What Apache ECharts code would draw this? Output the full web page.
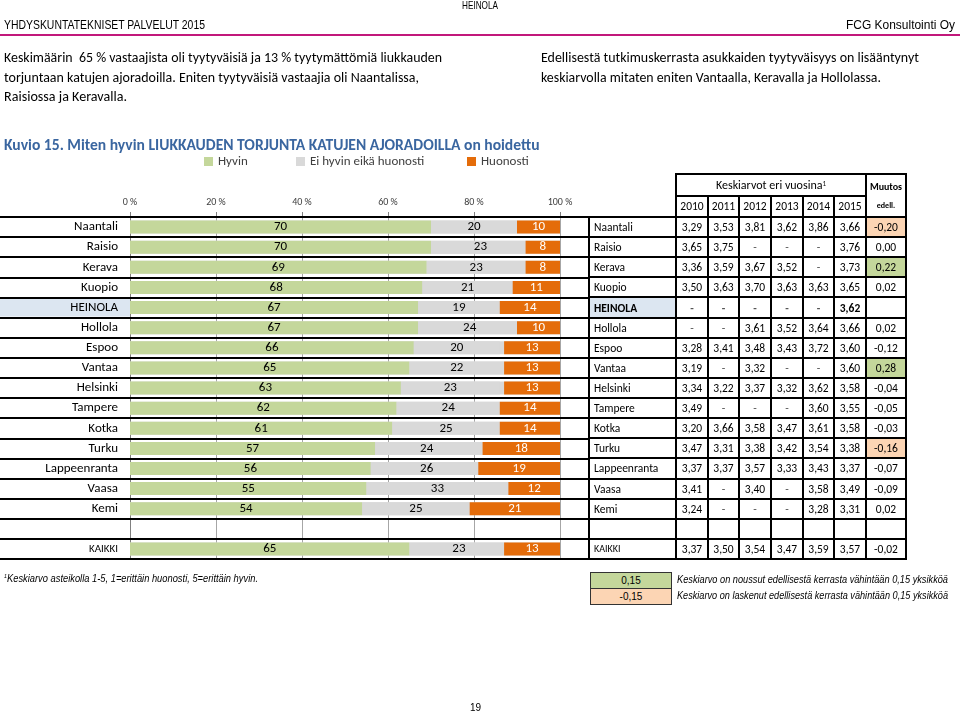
<!DOCTYPE html>
<html><head><meta charset="utf-8">
<script src="https://cdn.jsdelivr.net/npm/echarts@6/dist/echarts.min.js"></script>
<style>
html,body{margin:0;padding:0;background:#fff;}
#wrap{position:relative;width:960px;height:714px;overflow:hidden;font-family:Carlito,Lato,sans-serif;}
#chart{position:absolute;left:0;top:0;width:960px;height:714px;}
#overlay{position:absolute;left:0;top:0;width:960px;height:714px;pointer-events:none;}
.t{position:absolute;white-space:nowrap;color:#000;transform-origin:0 50%;}
.narrow{font-family:'Liberation Sans Narrow','Arial Narrow','Liberation Sans',sans-serif;}
.cell{position:absolute;box-sizing:border-box;border:2px solid #000;display:flex;align-items:center;justify-content:center;font-size:11.5px;color:#000;overflow:hidden;white-space:nowrap;}
</style></head><body>
<div id="wrap"><div id="chart"></div><div id="overlay"></div></div>
<script>
// ---- chart data ----
const categories = ['Naantali','Raisio','Kerava','Kuopio','HEINOLA','Hollola','Espoo','Vantaa','Helsinki','Tampere','Kotka','Turku','Lappeenranta','Vaasa','Kemi'];
const hyvin = [70,70,69,68,67,67,66,65,63,62,61,57,56,55,54];
const eiHyvinEikaHuonosti = [20,23,23,21,19,24,20,22,23,24,25,24,26,33,25];
const huonosti = [10,8,8,11,14,10,13,13,13,14,14,18,19,12,21];
const totalCategory = ['KAIKKI'];
const totalHyvin = [65];
const totalEiHyvin = [23];
const totalHuonosti = [13];
const seriesNames = ['Hyvin','Ei hyvin eikä huonosti','Huonosti'];
const axisMin = 0, axisMax = 100, axisStep = 20;

// ---- table data ----
const years = ['2010','2011','2012','2013','2014','2015'];
const tableRows = categories.concat(['', 'KAIKKI']);
const mean2010 = [3.29,3.65,3.36,3.50,null,null,3.28,3.19,3.34,3.49,3.20,3.47,3.37,3.41,3.24,'',3.37];
const mean2011 = [3.53,3.75,3.59,3.63,null,null,3.41,null,3.22,null,3.66,3.31,3.37,null,null,'',3.50];
const mean2012 = [3.81,null,3.67,3.70,null,3.61,3.48,3.32,3.37,null,3.58,3.38,3.57,3.40,null,'',3.54];
const mean2013 = [3.62,null,3.52,3.63,null,3.52,3.43,null,3.32,null,3.47,3.42,3.33,null,null,'',3.47];
const mean2014 = [3.86,null,null,3.63,null,3.64,3.72,null,3.62,3.60,3.61,3.54,3.43,3.58,3.28,'',3.59];
const mean2015 = [3.66,3.76,3.73,3.65,3.62,3.66,3.60,3.60,3.58,3.55,3.58,3.38,3.37,3.49,3.31,'',3.57];
const muutos = [-0.20,0.00,0.22,0.02,'',0.02,-0.12,0.28,-0.04,-0.05,-0.03,-0.16,-0.07,-0.09,0.02,'',-0.02];

// ---- layout ----
const GRID_TOP = 217, ROW_H = 20.12, NROWS = tableRows.length;
const AX_LEFT = 130, AX_W = 430;
const GREEN = '#c4d79b', GREY = '#d9d9d9', ORANGE = '#e46c0a', PEACH = '#fcd5b4', LBLUE = '#dce6f1';
const FONT = 'Carlito, Lato, sans-serif';

const chart = echarts.init(document.getElementById('chart'), null, {renderer:'canvas'});

function labelFmt(v){ return v === 'HEINOLA' ? '{h|' + v + '}' : (v === 'KAIKKI' ? '{k|' + v + '}' : '{n|' + v + '}'); }
const richLabels = {
  n: {fontSize: 13, fontFamily: FONT, color: '#000', padding: [0, 12, 0, 0]},
  k: {fontSize: 11, fontFamily: FONT, color: '#000', padding: [0, 12, 0, 0]},
  h: {fontSize: 13, fontFamily: FONT, color: '#000', backgroundColor: LBLUE, width: 118, height: 18, lineHeight: 18, align: 'right', padding: [0, 12, 0, 0]}
};
function catY(gridIdx, data){
  return {type:'category', gridIndex: gridIdx, data: data, inverse: true,
    axisLine:{show:false}, axisTick:{show:false}, splitLine:{show:false},
    axisLabel:{show:true, margin:0, formatter: labelFmt, rich: richLabels}};
}
function hidX(gridIdx, inv){
  return {type:'value', gridIndex: gridIdx, min: axisMin, max: axisMax, inverse: !!inv, show:false, splitLine:{show:false}};
}
function barLabel(color){ return {show:true, position:'inside', color: color, fontSize: 13, fontFamily: FONT}; }
function barSeries(name, xi, yi, data, color, lblColor, extra){
  return Object.assign({type:'bar', name: name, xAxisIndex: xi, yAxisIndex: yi, data: data, barWidth: 13, barGap: '-100%',
    itemStyle:{color: color}, label: barLabel(lblColor), emphasis:{disabled:true}, animation:false}, extra || {});
}
function grid(left, top, width, height){
  return {left: left, top: top, width: width, height: height, containLabel: false, outerBoundsMode: 'none'};
}

const option = {
  animation: false,
  backgroundColor: '#fff',
  title: {text: 'Kuvio 15. Miten hyvin LIUKKAUDEN TORJUNTA KATUJEN AJORADOILLA on hoidettu', left: 4, top: 138, padding: 0,
    textStyle: {fontFamily: FONT, fontSize: 15.6, fontWeight: 'bold', color: '#3a66a0'}},
  legend: seriesNames.map((n, i) => ({data: [n], left: [204, 296, 467][i], top: 155, padding: 0, icon: 'rect', itemWidth: 9, itemHeight: 9,
    itemGap: 5, selectedMode: false, textStyle: {fontFamily: FONT, fontSize: 13, color: '#404040'}})),
  grid: [
    grid(0, GRID_TOP, 589, ROW_H * NROWS),
    grid(AX_LEFT, GRID_TOP, AX_W, ROW_H * NROWS),
    grid(AX_LEFT, GRID_TOP, AX_W, ROW_H * categories.length),
    grid(AX_LEFT, GRID_TOP + ROW_H * (NROWS - 1), AX_W, ROW_H)
  ],
  xAxis: [
    {type:'value', gridIndex:0, show:false},
    {type:'value', gridIndex:1, min: axisMin, max: axisMax, interval: axisStep, position:'top',
      axisLine:{show:false}, axisTick:{show:true, length:5, lineStyle:{color:'#808080'}},
      axisLabel:{formatter:'{value} %', fontFamily: FONT, fontSize: 10, color:'#404040', margin: 10},
      splitLine:{show:true, lineStyle:{color:'#a6a6a6', width:1}}},
    hidX(2, false), hidX(2, true), hidX(3, false), hidX(3, true)
  ],
  yAxis: [
    {type:'category', gridIndex:0, data: tableRows, inverse:true, z: 1,
      axisLine:{show:false}, axisTick:{show:false}, axisLabel:{show:false},
      splitLine:{show:true, lineStyle:{color:'#000', width:2}}},
    {type:'category', gridIndex:1, data: tableRows, inverse:true,
      axisLine:{show:true, lineStyle:{color:'#808080'}}, axisTick:{show:true, length:3, lineStyle:{color:'#808080'}},
      axisLabel:{show:false}, splitLine:{show:false}},
    catY(2, categories), catY(3, totalCategory)
  ],
  series: [
    barSeries(seriesNames[0], 2, 2, hyvin, GREEN, '#000', {stack:'a', showBackground:true, backgroundStyle:{color: GREY}}),
    barSeries(seriesNames[1], 2, 2, eiHyvinEikaHuonosti, GREY, '#000', {stack:'a'}),
    barSeries(seriesNames[2], 3, 2, huonosti, ORANGE, '#fff', {stack:'b'}),
    barSeries(seriesNames[0], 4, 3, totalHyvin, GREEN, '#000', {stack:'c', showBackground:true, backgroundStyle:{color: GREY}}),
    barSeries(seriesNames[1], 4, 3, totalEiHyvin, GREY, '#000', {stack:'c'}),
    barSeries(seriesNames[2], 5, 3, totalHuonosti, ORANGE, '#fff', {stack:'d'})
  ]
};
chart.setOption(option);

// ---- overlay texts and table ----
const ov = document.getElementById('overlay');
function addText(txt, left, top, css, targetW){
  const d = document.createElement('div');
  d.className = 't' + (css.narrow ? ' narrow' : '');
  d.innerHTML = txt;
  d.style.left = left + 'px'; d.style.top = top + 'px';
  for (const k in css) if (k !== 'narrow') d.style[k] = css[k];
  ov.appendChild(d);
  if (targetW) { const w = d.getBoundingClientRect().width; if (w > 0) d.style.transform = 'scaleX(' + (targetW / w) + ')'; }
  return d;
}
function addBox(l, t, w, h, css){
  const d = document.createElement('div');
  d.style.position = 'absolute'; d.style.left = l + 'px'; d.style.top = t + 'px';
  d.style.width = w + 'px'; d.style.height = h + 'px';
  for (const k in css) d.style[k] = css[k];
  ov.appendChild(d); return d;
}
// page header
addText('HEINOLA', 462, -1, {fontSize:'11px', narrow:true}, 36);
addText('YHDYSKUNTATEKNISET PALVELUT 2015', 4, 18, {fontSize:'12.5px', narrow:true}, 201);
addText('FCG Konsultointi Oy', 846, 18, {fontSize:'12.5px', narrow:true}, 109);
addBox(0, 34, 960, 2, {background:'#c2187b'});
// paragraphs
const pL = ['Keskimäärin&nbsp; 65 % vastaajista oli tyytyväisiä ja 13 % tyytymättömiä liukkauden',
            'torjuntaan katujen ajoradoilla. Eniten tyytyväisiä vastaajia oli Naantalissa,',
            'Raisiossa ja Keravalla.'];
const pLw = [438, 415, 123];
pL.forEach((s, i) => addText(s, 4, 49 + i * 19.5, {fontSize:'14px'}, pLw[i]));
const pR = ['Edellisestä tutkimuskerrasta asukkaiden tyytyväisyys on lisääntynyt',
            'keskiarvolla mitaten eniten Vantaalla, Keravalla ja Hollolassa.'];
const pRw = [378, 340];
pR.forEach((s, i) => addText(s, 541, 49 + i * 19.5, {fontSize:'14px'}, pRw[i]));

// table
const colX = [589, 676, 708, 739, 771, 803, 834, 866, 906];
function cell(x0, x1, y0, y1, html, css){
  const d = document.createElement('div'); d.className = 'cell';
  d.style.left = (x0 - 1) + 'px'; d.style.top = (y0 - 1) + 'px';
  d.style.width = (x1 - x0 + 2) + 'px'; d.style.height = (y1 - y0 + 2) + 'px';
  d.innerHTML = html;
  for (const k in (css || {})) d.style[k] = css[k];
  ov.appendChild(d); return d;
}
const HDR_TOP = 174, HDR_MID = 195.5;
cell(colX[1], colX[7], HDR_TOP, HDR_MID, 'Keskiarvot eri vuosina<sup style="font-size:7px;position:relative;top:-1px">1</sup>', {fontSize:'12px'});
years.forEach((y, i) => cell(colX[1 + i], colX[2 + i], HDR_MID, GRID_TOP, y, {fontSize:'11.5px'}));
cell(colX[7], colX[8], HDR_TOP, GRID_TOP, '<div style="text-align:center;line-height:1"><div style="font-weight:bold;font-size:10px;margin-bottom:9px">Muutos</div><div style="font-weight:bold;font-size:8px">edell.</div></div>', {});
const meanCols = [mean2010, mean2011, mean2012, mean2013, mean2014, mean2015];
function fmt(v){ return v === '' ? '' : (v == null ? '-' : v.toFixed(2).replace('.', ',')); }
tableRows.forEach((name, r) => {
  const y0 = GRID_TOP + r * ROW_H, y1 = y0 + ROW_H;
  const isH = name === 'HEINOLA';
  cell(colX[0], colX[1], y0, y1, name, {justifyContent:'flex-start', paddingLeft:'4px', fontSize: name === 'KAIKKI' ? '10px' : '11.5px',
    fontWeight: isH ? 'bold' : 'normal', background: isH ? LBLUE : 'transparent'});
  meanCols.forEach((col, c) => {
    const v = col[r];
    cell(colX[1 + c], colX[2 + c], y0, y1, fmt(v), {fontWeight: isH ? 'bold' : 'normal', color: v == null ? '#555' : '#000'});
  });
  const m = muutos[r];
  let bg = 'transparent';
  if (m !== '' && m >= 0.15) bg = GREEN;
  if (m !== '' && m <= -0.15) bg = PEACH;
  cell(colX[7], colX[8], y0, y1, m === '' ? '' : fmt(m), {background: bg});
});

// footer
addText('<sup style="font-size:6px">1</sup>Keskiarvo asteikolla 1-5, 1=erittäin huonosti, 5=erittäin hyvin.', 4, 572, {fontSize:'10.5px', fontStyle:'italic', narrow:true}, 254);
addBox(590, 572, 82, 17, {background: GREEN, border:'1px solid #333', boxSizing:'border-box', fontSize:'10px', display:'flex', alignItems:'center', justifyContent:'center', fontFamily:'Liberation Sans Narrow, Liberation Sans, sans-serif'}).textContent = '0,15';
addBox(590, 588, 82, 17, {background: PEACH, border:'1px solid #333', boxSizing:'border-box', fontSize:'10px', display:'flex', alignItems:'center', justifyContent:'center', fontFamily:'Liberation Sans Narrow, Liberation Sans, sans-serif'}).textContent = '-0,15';
addText('Keskiarvo on noussut edellisestä kerrasta vähintään 0,15 yksikköä', 677, 573, {fontSize:'10.5px', fontStyle:'italic', narrow:true}, 271);
addText('Keskiarvo on laskenut edellisestä kerrasta vähintään 0,15 yksikköä', 677, 589, {fontSize:'10.5px', fontStyle:'italic', narrow:true}, 271);
addText('19', 470, 702, {fontSize:'10px', narrow:true});
</script>
</body></html>
